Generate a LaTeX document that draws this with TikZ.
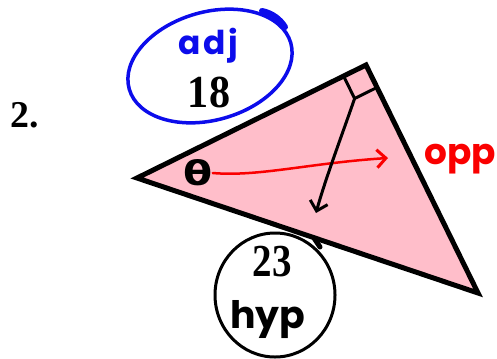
\documentclass[tikz,border=0pt]{standalone}
\usepackage{fontspec}
\setmainfont{Liberation Serif}
\newfontfamily\handfont{Poppins}
\newfontfamily\thetafont{DejaVu Sans}
\usetikzlibrary{arrows.meta,calc}
\definecolor{trifill}{RGB}{255,190,202}
\definecolor{penblue}{RGB}{12,12,235}
\definecolor{penred}{RGB}{250,0,0}
\tikzset{
  printnum/.style={font=\fontsize{46}{46}\selectfont\bfseries, inner sep=0pt},
  handtext/.style={inner sep=0pt},
  barb/.style={-{Straight Barb[length=9bp,width=18bp,line width=3bp]}, line cap=round}
}
\begin{document}
\begin{tikzpicture}[x=1bp,y=-1bp]
\useasboundingbox (0,0) rectangle (497,358);
% triangle
\coordinate (L) at (137,178);
\coordinate (A) at (366,65);
\coordinate (B) at (478,293);
\draw[line width=5bp, fill=trifill] (L)--(A)--(B)--cycle;
% right angle mark
\coordinate (P1) at ($(A)!25bp!(L)$);
\coordinate (P2) at ($(A)!25bp!(B)$);
\coordinate (Q) at ($(P1)+(P2)-(A)$);
\draw[line width=3bp] (P1)--(Q)--(P2);
% number label
\node[font=\fontsize{38}{38}\selectfont\bfseries, inner sep=0pt] (num) at (25,115.5) {2.};
% theta
\node[font=\thetafont\fontsize{34}{34}\selectfont\bfseries, inner sep=0pt] (theta) at (198,173) {\scalebox{1.25}[1]{θ}};
% red arrow to opposite
\coordinate (redEnd) at (388,158);
\draw[penred, line width=2.5bp, barb] (theta.east) .. controls (258,177) and (310,163) .. (redEnd);
\node[handtext, font=\handfont\bfseries\fontsize{36}{36}\selectfont, text=penred, anchor=base east] (opp) at (496,164) {opp};
% black arrow to hypotenuse
\coordinate (blackEnd) at (316,213);
\draw[line width=3bp, barb] (Q) .. controls (342,135) and (325,180) .. (blackEnd);
% adjacent
\draw[penblue, line width=3.5bp, rotate around={16:(210,66)}] (210,66) ellipse [x radius=84, y radius=54];
\draw[penblue, line width=6bp, line cap=round] (262,11) .. controls (272,13) and (280,19) .. (285,27);
\node[handtext, font=\handfont\bfseries\fontsize{33}{33}\selectfont, text=penblue] (adj) at (208,46) {\addfontfeature{LetterSpace=8}adj};
\node[printnum] (n18) at (209,92) {\scalebox{0.92}[1]{18}};
% hypotenuse
\draw[line width=3bp] (275,295) ellipse [x radius=60, y radius=62];
\draw[line width=5bp, line cap=round] (314,238) -- (320,247);
\node[printnum] (n23) at (272,262) {\scalebox{0.85}[1]{23}};
\node[handtext, font=\handfont\bfseries\fontsize{38}{38}\selectfont] (hyp) at (268,320) {hyp};
\end{tikzpicture}
\end{document}
